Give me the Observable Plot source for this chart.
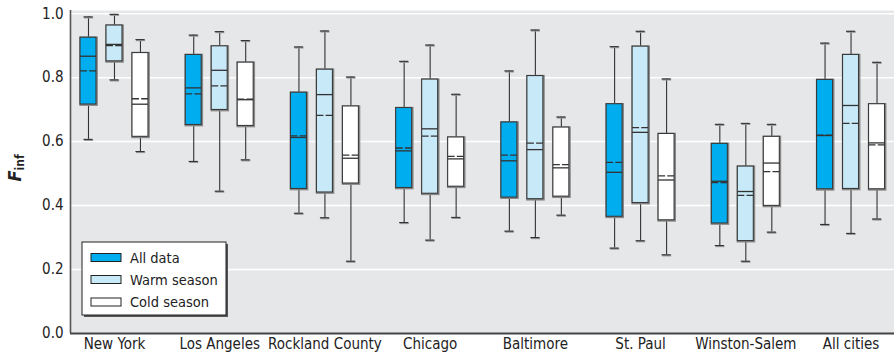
<!DOCTYPE html>
<html>
<head>
<meta charset="utf-8">
<script src="https://cdn.jsdelivr.net/npm/d3@7"></script>
<script src="https://cdn.jsdelivr.net/npm/@observablehq/plot@0.6"></script>
<style>
  html, body { margin: 0; padding: 0; background: #fff; }
  #chart { width: 894px; height: 354px; }
</style>
</head>
<body>
<div id="chart"></div>
<script>
// ---- data ----
const cities = ["New York", "Los Angeles", "Rockland County", "Chicago", "Baltimore", "St. Paul", "Winston-Salem", "All cities"];
const seriesNames = ["All data", "Warm season", "Cold season"];
// each entry: [whiskerLow, q1, median, mean, q3, whiskerHigh]
const allData = [
  [0.607, 0.716, 0.867, 0.821, 0.925, 0.990],
  [0.538, 0.652, 0.768, 0.749, 0.871, 0.933],
  [0.376, 0.452, 0.613, 0.618, 0.753, 0.896],
  [0.347, 0.455, 0.571, 0.580, 0.705, 0.851],
  [0.320, 0.425, 0.540, 0.558, 0.660, 0.821],
  [0.267, 0.365, 0.504, 0.535, 0.717, 0.897],
  [0.275, 0.344, 0.476, 0.472, 0.593, 0.654],
  [0.341, 0.451, 0.619, 0.620, 0.793, 0.908]
];
const warmSeason = [
  [0.793, 0.851, 0.904, 0.900, 0.963, 0.998],
  [0.445, 0.699, 0.823, 0.774, 0.898, 0.944],
  [0.362, 0.441, 0.747, 0.682, 0.825, 0.946],
  [0.292, 0.437, 0.640, 0.617, 0.794, 0.902],
  [0.300, 0.420, 0.575, 0.595, 0.805, 0.949],
  [0.290, 0.408, 0.629, 0.644, 0.897, 0.945],
  [0.226, 0.289, 0.444, 0.432, 0.522, 0.657],
  [0.313, 0.452, 0.713, 0.657, 0.871, 0.945]
];
const coldSeason = [
  [0.569, 0.615, 0.717, 0.734, 0.877, 0.919],
  [0.543, 0.649, 0.731, 0.733, 0.847, 0.916],
  [0.226, 0.469, 0.548, 0.558, 0.710, 0.802],
  [0.363, 0.459, 0.546, 0.554, 0.613, 0.748],
  [0.370, 0.428, 0.518, 0.528, 0.644, 0.677],
  [0.246, 0.354, 0.480, 0.493, 0.624, 0.796],
  [0.317, 0.399, 0.533, 0.506, 0.615, 0.654],
  [0.358, 0.451, 0.596, 0.590, 0.717, 0.848]
];
const yTicks = [0, 0.2, 0.4, 0.6, 0.8, 1.0];
const gridTicks = [0.2, 0.4, 0.6, 0.8, 1.0];

// ---- layout / style constants ----
const fills = ["#00aeef", "#c8e9f8", "#ffffff"];
const OFFSET = 0.247;   // group offset between series (in category units)
const HALF = 0.076;     // half box width
const CAP = 0.043;      // half cap width
const FONT = "'DejaVu Sans Condensed', 'Liberation Sans', sans-serif";

const seriesData = [allData, warmSeason, coldSeason];
const rows = [];
seriesData.forEach((arr, si) => {
  arr.forEach((v, ci) => {
    const pos = ci + (si - 1) * OFFSET;
    rows.push({
      city: cities[ci], series: seriesNames[si], si,
      pos, x1: pos - HALF, x2: pos + HALF, c1: pos - CAP, c2: pos + CAP,
      low: v[0], q1: v[1], med: v[2], mean: v[3], q3: v[4], high: v[5],
      fill: fills[si]
    });
  });
});

const xDomain = [-0.418, cities.length - 1 + 0.413];

const plot = Plot.plot({
  width: 894,
  height: 354,
  marginLeft: 70,
  marginRight: 0,
  marginTop: 10,
  marginBottom: 21,
  style: { fontFamily: FONT, fontSize: "15px", color: "#222", background: "#fff" },
  x: {
    type: "linear",
    domain: xDomain,
    ticks: d3.range(cities.length),
    tickFormat: i => cities[i],
    tickSize: 0,
    tickPadding: 5,
    label: null
  },
  y: {
    domain: [0, 1.01],
    ticks: yTicks,
    tickFormat: d3.format(".1f"),
    tickSize: 0,
    tickPadding: 7,
    label: null
  },
  marks: [
    Plot.frame({ fill: "#e6e7e9", stroke: "none" }),
    Plot.ruleY(gridTicks, { stroke: "#ffffff", strokeWidth: 1.5 }),
    // whiskers
    Plot.ruleX(rows, { x: "pos", y1: "q3", y2: "high", stroke: "#333", strokeWidth: 1.1 }),
    Plot.ruleX(rows, { x: "pos", y1: "low", y2: "q1", stroke: "#333", strokeWidth: 1.1 }),
    // caps (shadow + line)
    Plot.ruleY(rows, { x1: "c1", x2: "c2", y: "high", stroke: "#999", strokeWidth: 2, dx: 0.6, dy: 0.6 }),
    Plot.ruleY(rows, { x1: "c1", x2: "c2", y: "high", stroke: "#333", strokeWidth: 1.1 }),
    Plot.ruleY(rows, { x1: "c1", x2: "c2", y: "low", stroke: "#999", strokeWidth: 2, dx: 0.6, dy: 0.6 }),
    Plot.ruleY(rows, { x1: "c1", x2: "c2", y: "low", stroke: "#333", strokeWidth: 1.1 }),
    // box shadow
    Plot.rect(rows, { x1: "x1", x2: "x2", y1: "q1", y2: "q3", fill: "none", stroke: "#888", strokeWidth: 2.6, dx: 0.6, dy: 0.6 }),
    // boxes
    Plot.rect(rows, { x1: "x1", x2: "x2", y1: "q1", y2: "q3", fill: "fill", stroke: "#3a3a3a", strokeWidth: 1.1 }),
    // medians
    Plot.ruleY(rows, { x1: "x1", x2: "x2", y: "med", stroke: "#333", strokeWidth: 1.3 }),
    // means (dashed)
    Plot.ruleY(rows, { x1: "x1", x2: "x2", y: "mean", stroke: "#333", strokeWidth: 1.3, strokeDasharray: "7,2.2" }),
    // axes lines
    Plot.ruleX([xDomain[0]], { stroke: "#555", strokeWidth: 1.6 }),
    Plot.ruleY([0], { stroke: "#444", strokeWidth: 2 })
  ]
});

document.getElementById("chart").appendChild(plot);

// ---- y-axis label with subscript ----
const svg = d3.select(plot);
const yl = svg.append("text")
  .attr("transform", "translate(21,168) rotate(-90)")
  .attr("text-anchor", "middle")
  .attr("fill", "#222")
  .style("font-family", FONT);
yl.append("tspan").text("F").style("font-style", "italic").style("font-weight", "bold").style("font-size", "18px");
yl.append("tspan").text("inf").style("font-weight", "bold").style("font-size", "12px").attr("dy", 3);

// ---- legend ----
const lg = svg.append("g").style("font-family", FONT).style("font-size", "14.5px").attr("text-anchor", "start");
lg.append("rect").attr("x", 84).attr("y", 244).attr("width", 144).attr("height", 73).attr("fill", "#555");
lg.append("rect").attr("x", 82).attr("y", 242).attr("width", 144).attr("height", 73).attr("fill", "#fff").attr("stroke", "#222").attr("stroke-width", 1);
const rowY = [257.5, 279.5, 302];
seriesNames.forEach((name, i) => {
  lg.append("rect").attr("x", 91).attr("y", rowY[i] - 4).attr("width", 30).attr("height", 8)
    .attr("fill", fills[i]).attr("stroke", "#222").attr("stroke-width", 1);
  lg.append("text").attr("x", 130).attr("y", rowY[i]).attr("dy", "0.36em").attr("text-anchor", "start").attr("fill", "#222").text(name);
});
</script>
</body>
</html>
